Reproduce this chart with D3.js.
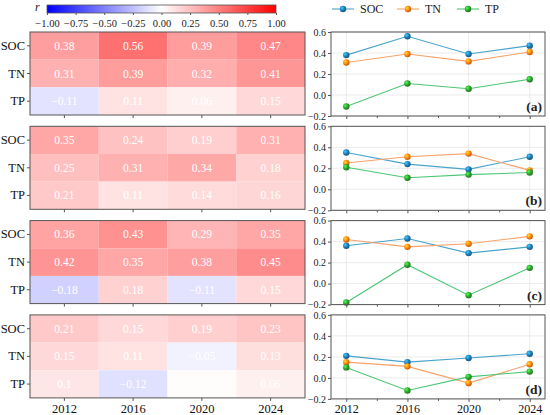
<!DOCTYPE html>
<html>
<head>
<meta charset="utf-8">
<script src="https://cdn.jsdelivr.net/npm/d3@7"></script>
<style>
  html, body { margin: 0; padding: 0; background: #fff; }
</style>
</head>
<body>
<div id="chart"></div>
<script>
const years = [2012, 2016, 2020, 2024];
const nutrients = ['SOC', 'TN', 'TP'];
const panelLabels = ['(a)', '(b)', '(c)', '(d)'];

// correlation r per panel, rows = SOC, TN, TP
const panelA = [[0.38, 0.56, 0.39, 0.47], [0.31, 0.39, 0.32, 0.41], [-0.11, 0.11, 0.06, 0.15]];
const panelB = [[0.35, 0.24, 0.19, 0.31], [0.25, 0.31, 0.34, 0.18], [0.21, 0.11, 0.14, 0.16]];
const panelC = [[0.36, 0.43, 0.29, 0.35], [0.42, 0.35, 0.38, 0.45], [-0.18, 0.18, -0.11, 0.15]];
const panelD = [[0.21, 0.15, 0.19, 0.23], [0.15, 0.11, -0.05, 0.13], [0.10, -0.12, 0.01, 0.06]];
const panels = [panelA, panelB, panelC, panelD];

const cbarTicks = [-1, -0.75, -0.5, -0.25, 0, 0.25, 0.5, 0.75, 1];
const lineYTicks = [-0.2, 0, 0.2, 0.4, 0.6];

const seriesColor = { SOC: '#1f77b4', TN: '#ff7f0e', TP: '#2ca02c' };
const lineColor = { SOC: '#4aa3cc', TN: '#f8a26a', TP: '#4cc676' };

const FONT = '"Liberation Serif", "Times New Roman", serif';
const W = 550, H = 415;
const svg = d3.select('#chart').append('svg').attr('width', W).attr('height', H)
  .style('font-family', FONT);

const color = d3.scaleLinear().domain([-1, 0, 1]).range(['#0000ff', '#ffffff', '#ff0000']);

// ball-like markers
const defs = svg.append('defs');
nutrients.forEach(n => {
  const g = defs.append('radialGradient').attr('id', 'ball-' + n)
    .attr('cx', '35%').attr('cy', '35%').attr('r', '65%');
  g.append('stop').attr('offset', '0%').attr('stop-color', d3.color(seriesColor[n]).brighter(1.6));
  g.append('stop').attr('offset', '60%').attr('stop-color', seriesColor[n]);
  g.append('stop').attr('offset', '100%').attr('stop-color', d3.color(seriesColor[n]).darker(0.8));
});

function styleAxis(g, size, fill) {
  g.select('.domain').remove();
  g.selectAll('text').style('font-family', FONT).attr('font-size', size).attr('fill', fill);
  g.selectAll('line').attr('stroke', '#555');
}

// colorbar
const cbX = d3.scaleLinear().domain([-1, 1]).range([47, 276]);
const grad = defs.append('linearGradient').attr('id', 'cbar');
d3.range(0, 1.0001, 0.05).forEach(t => {
  grad.append('stop').attr('offset', t).attr('stop-color', color(-1 + 2 * t));
});
svg.append('rect').attr('x', 47).attr('y', 5).attr('width', 229).attr('height', 8)
  .attr('fill', 'url(#cbar)').attr('stroke', '#555').attr('stroke-width', 0.8);
svg.append('g').attr('transform', 'translate(0,13)')
  .call(d3.axisBottom(cbX).tickValues(cbarTicks).tickSize(2).tickFormat(d3.format('.2f')))
  .call(g => styleAxis(g, 10.5, '#222'))
  .call(g => g.selectAll('text').attr('dy', '0.9em'));
svg.append('text').attr('x', 35).attr('y', 11).attr('font-style', 'italic')
  .attr('font-size', 12).attr('fill', '#222').text('r');

// layout
const panelTop = i => 32 + i * 94.3;
const panelH = 83;

const hx = d3.scaleBand().domain(years).range([30, 305]);
const lx = d3.scaleLinear().domain([2011, 2025]).range([331, 545]);
const ly = d3.scaleLinear().domain([-0.2, 0.6]);

panels.forEach((data, i) => {
  const top = panelTop(i);
  const hy = d3.scaleBand().domain(nutrients).range([top, top + panelH]);

  // heatmap
  const hg = svg.append('g');
  nutrients.forEach((n, r) => {
    years.forEach((yr, c) => {
      const v = data[r][c];
      hg.append('rect').attr('x', hx(yr)).attr('y', hy(n))
        .attr('width', hx.bandwidth()).attr('height', hy.bandwidth())
        .attr('fill', color(v));
      hg.append('text').attr('x', hx(yr) + hx.bandwidth() / 2).attr('y', hy(n) + hy.bandwidth() / 2)
        .attr('dy', '0.35em').attr('text-anchor', 'middle')
        .attr('font-size', 11.5).attr('fill', '#fff').text(d3.format('.2')(v));
    });
  });
  hg.append('rect').attr('x', 30).attr('y', top).attr('width', 275).attr('height', panelH)
    .attr('fill', 'none').attr('stroke', '#555').attr('stroke-width', 1);

  svg.append('g').attr('transform', 'translate(30,0)')
    .call(d3.axisLeft(hy).tickSize(3).tickPadding(2))
    .call(g => styleAxis(g, 12.5, '#111'));
  svg.append('g').attr('transform', `translate(0,${top + panelH})`)
    .call(d3.axisBottom(hx).tickSize(3).tickFormat(i === 3 ? d => d : ''))
    .call(g => styleAxis(g, 12.5, '#111'));

  // line panel
  const lTop = top;
  const lH = 84;
  ly.range([lTop + lH, lTop]);
  const lg = svg.append('g');
  lg.append('g').selectAll('line').data(years).join('line')
    .attr('x1', d => lx(d)).attr('x2', d => lx(d)).attr('y1', lTop).attr('y2', lTop + lH)
    .attr('stroke', '#e6e6e6').attr('stroke-width', 0.8);
  lg.append('g').selectAll('line').data(lineYTicks).join('line')
    .attr('x1', 331).attr('x2', 545).attr('y1', d => ly(d)).attr('y2', d => ly(d))
    .attr('stroke', '#e6e6e6').attr('stroke-width', 0.8);

  lg.append('g').attr('transform', 'translate(331,0)')
    .call(d3.axisLeft(ly).tickValues(lineYTicks).tickSize(3).tickPadding(2).tickFormat(d3.format('.1f')))
    .call(g => styleAxis(g, 10, '#222'));
  lg.append('g').attr('transform', `translate(0,${lTop + lH})`)
    .call(d3.axisBottom(lx).tickValues([2014, 2018, 2022]).tickSize(2).tickFormat(''))
    .call(g => styleAxis(g, 10, '#222'));
  lg.append('g').attr('transform', `translate(0,${lTop + lH})`)
    .call(d3.axisBottom(lx).tickValues(years).tickSize(3).tickFormat(i === 3 ? d => d : ''))
    .call(g => styleAxis(g, 12, '#111'));

  const line = d3.line().x((d, k) => lx(years[k])).y(d => ly(d));
  nutrients.forEach((n, r) => {
    lg.append('path').datum(data[r]).attr('d', line).attr('fill', 'none')
      .attr('stroke', lineColor[n]).attr('stroke-width', 1.1);
  });
  nutrients.forEach((n, r) => {
    lg.append('g').selectAll('circle').data(data[r]).join('circle')
      .attr('cx', (d, k) => lx(years[k])).attr('cy', d => ly(d)).attr('r', 3.2)
      .attr('fill', `url(#ball-${n})`);
  });

  lg.append('rect').attr('x', 331).attr('y', lTop).attr('width', 214).attr('height', lH)
    .attr('fill', 'none').attr('stroke', '#555').attr('stroke-width', 1);
  lg.append('text').attr('x', 542).attr('y', lTop + lH - 5).attr('text-anchor', 'end')
    .attr('font-size', 13.5).attr('font-weight', 'bold').attr('fill', '#222').text(panelLabels[i]);
});

// legend
const legendX = { SOC: 332, TN: 397, TP: 457 };
nutrients.forEach(n => {
  const x0 = legendX[n];
  svg.append('line').attr('x1', x0).attr('x2', x0 + 22).attr('y1', 9).attr('y2', 9)
    .attr('stroke', lineColor[n]).attr('stroke-width', 1.1);
  svg.append('circle').attr('cx', x0 + 11).attr('cy', 9).attr('r', 3.2).attr('fill', `url(#ball-${n})`);
  svg.append('text').attr('x', x0 + 28).attr('y', 9).attr('dy', '0.35em')
    .attr('font-size', 12).attr('fill', '#222').text(n);
});
</script>
</body>
</html>
